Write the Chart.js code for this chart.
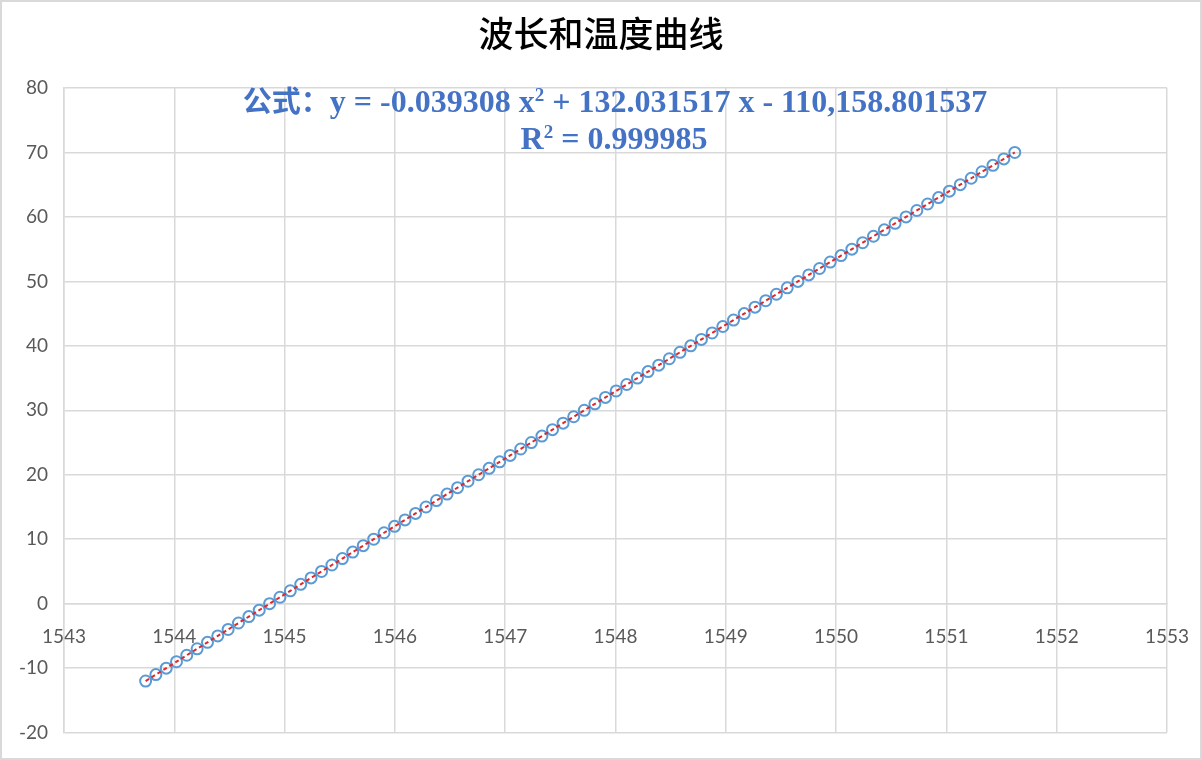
<!DOCTYPE html>
<html>
<head>
<meta charset="utf-8">
<script src="https://cdn.jsdelivr.net/npm/chart.js@4.4.1/dist/chart.umd.min.js"></script>
<style>
  html, body { margin: 0; padding: 0; background: #fff; }
  #wrap { position: relative; width: 1202px; height: 760px; }
  #frame { position: absolute; left: 0; top: 0; width: 1202px; height: 760px; box-sizing: border-box; border: 2px solid #D9D9D9; pointer-events: none; }
  .txt { position: absolute; left: 0; width: 1202px; text-align: center; white-space: nowrap; line-height: 1.2; }
  #title { top: 11px; left: 0px; font-family: "Noto Sans CJK SC", sans-serif; font-weight: 500; font-size: 35px; color: #000; }
  .eq { font-family: "Liberation Serif", "Noto Sans CJK SC", serif; font-weight: bold; font-size: 32px; color: #4472C4; }
  .eq .cjk { font-family: "Noto Sans CJK SC", sans-serif; font-weight: bold; font-size: 29px; }
  .eq sup { font-size: 19px; vertical-align: 11px; line-height: 0; }
  #eq1 { top: 82px; left: 14px; }
  #eq2 { top: 119px; left: 13px; }
</style>
</head>
<body>
<div id="wrap">
  <canvas id="grafico"></canvas>
  <div id="title" class="txt">波长和温度曲线</div>
  <div id="eq1" class="txt eq"><span class="cjk">公式：</span>y = -0.039308 x<sup>2</sup> + 132.031517 x - 110,158.801537</div>
  <div id="eq2" class="txt eq">R<sup>2</sup> = 0.999985</div>
  <div id="frame"></div>
</div>
<script>
// 波长 (nm)
const wavelengths = [
  1543.740, 1543.833, 1543.927, 1544.020, 1544.113, 1544.207, 1544.301, 1544.394, 1544.488, 1544.582,
  1544.676, 1544.770, 1544.864, 1544.958, 1545.052, 1545.146, 1545.240, 1545.335, 1545.429, 1545.524,
  1545.618, 1545.713, 1545.808, 1545.902, 1545.997, 1546.092, 1546.187, 1546.282, 1546.377, 1546.473,
  1546.568, 1546.663, 1546.759, 1546.854, 1546.950, 1547.045, 1547.141, 1547.237, 1547.333, 1547.429,
  1547.525, 1547.621, 1547.717, 1547.813, 1547.909, 1548.006, 1548.102, 1548.199, 1548.295, 1548.392,
  1548.488, 1548.585, 1548.682, 1548.779, 1548.876, 1548.973, 1549.070, 1549.167, 1549.265, 1549.362,
  1549.459, 1549.557, 1549.654, 1549.752, 1549.850, 1549.947, 1550.045, 1550.143, 1550.241, 1550.339,
  1550.437, 1550.535, 1550.634, 1550.732, 1550.830, 1550.929, 1551.027, 1551.126, 1551.225, 1551.323,
  1551.422, 1551.521, 1551.620
];
// 温度 (°C)
const temperatures = [
  -12, -11, -10, -9, -8, -7, -6, -5, -4, -3,
  -2, -1, 0, 1, 2, 3, 4, 5, 6, 7,
  8, 9, 10, 11, 12, 13, 14, 15, 16, 17,
  18, 19, 20, 21, 22, 23, 24, 25, 26, 27,
  28, 29, 30, 31, 32, 33, 34, 35, 36, 37,
  38, 39, 40, 41, 42, 43, 44, 45, 46, 47,
  48, 49, 50, 51, 52, 53, 54, 55, 56, 57,
  58, 59, 60, 61, 62, 63, 64, 65, 66, 67,
  68, 69, 70
];
const xMin = 1543, xMax = 1553, xStep = 1;
const yMin = -20, yMax = 80, yStep = 10;

const pontos = wavelengths.map((x, i) => ({ x: x, y: temperatures[i] }));

const gridColor = '#D9D9D9';
const tickFont = { family: 'Lato, "Open Sans", sans-serif', size: 19 };

new Chart(document.getElementById('grafico').getContext('2d'), {
  type: 'scatter',
  data: {
    datasets: [
      {
        // linha de tendência (vermelha tracejada)
        label: '趋势线',
        data: pontos,
        showLine: true,
        borderColor: '#E0282C',
        borderWidth: 2,
        borderDash: [4, 3],
        pointRadius: 0,
        fill: false
      },
      {
        label: '温度',
        data: pontos,
        showLine: false,
        pointStyle: 'circle',
        pointRadius: 5.5,
        pointBorderWidth: 2,
        pointBorderColor: '#5B9BD5',
        pointBackgroundColor: 'rgba(0,0,0,0)'
      }
    ]
  },
  options: {
    responsive: true,
    maintainAspectRatio: false,
    animation: false,
    layout: { padding: { top: 88, right: 35, bottom: 26, left: 0 } },
    plugins: {
      legend: { display: false },
      tooltip: { enabled: false }
    },
    scales: {
      x: {
        type: 'linear',
        position: { y: 0 },
        min: xMin,
        max: xMax,
        afterFit: s => { s.paddingLeft = 0; s.paddingRight = 0; },
        ticks: { stepSize: xStep, color: '#595959', font: tickFont, padding: 22, maxRotation: 0,
                 callback: v => String(v) },
        grid: { color: gridColor, lineWidth: 1.5, drawTicks: false },
        border: { color: gridColor, width: 1.5 }
      },
      y: {
        type: 'linear',
        min: yMin,
        max: yMax,
        afterFit: s => { s.width = 64; },
        ticks: { stepSize: yStep, color: '#595959', font: tickFont, padding: 16 },
        grid: { color: gridColor, lineWidth: 1.5, drawTicks: false },
        border: { color: gridColor, width: 1.5 }
      }
    }
  }
});
</script>
</body>
</html>
